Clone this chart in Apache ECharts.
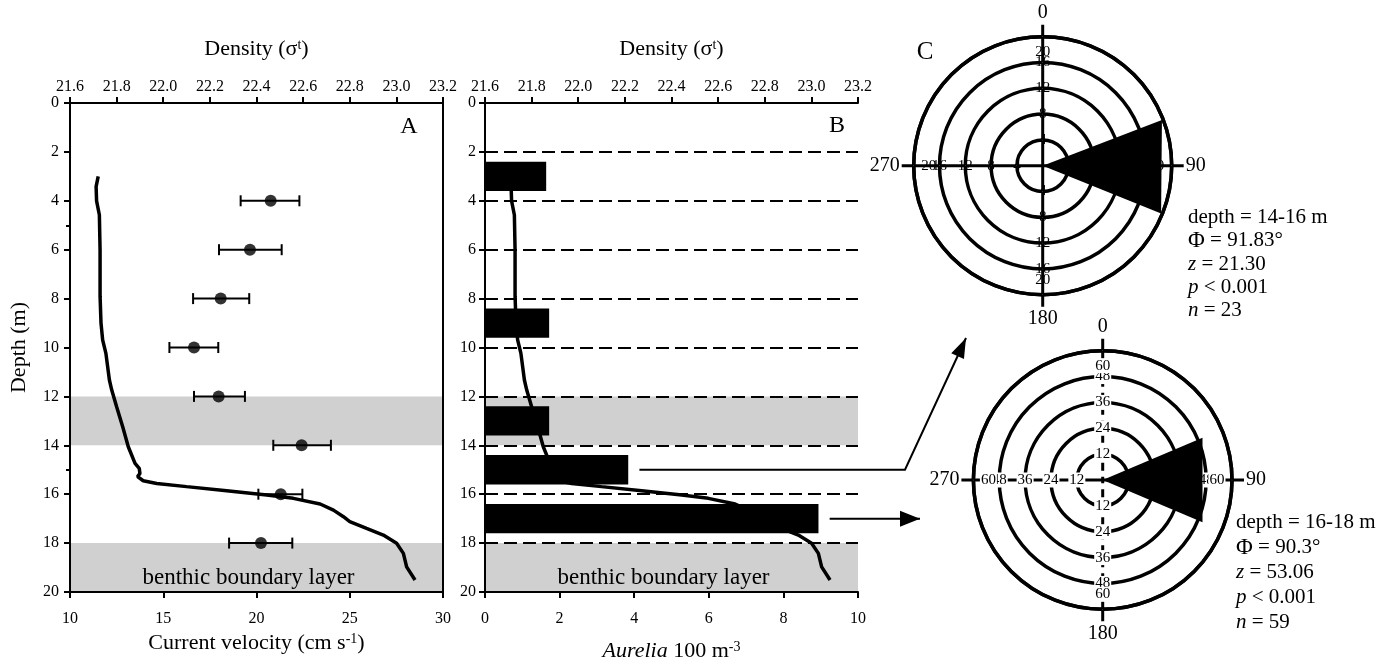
<!DOCTYPE html>
<html>
<head>
<meta charset="utf-8">
<script src="https://cdn.jsdelivr.net/npm/echarts@6.0.0/dist/echarts.min.js"></script>
<style>
  html, body { margin: 0; padding: 0; background: #fff; }
  #chart { width: 1391px; height: 664px; }
</style>
</head>
<body>
<div id="chart"></div>
<script>
// density profile (sigma-t) vs depth, same trace in panels A and B
const profileDepth = [3.0, 3.42, 4.0, 4.58, 6.0, 7.9, 9.0, 9.69, 10.24, 11.33, 11.74, 12.42, 13.24, 14.06, 14.74, 14.94, 15.15, 15.28, 15.45, 15.56, 15.69, 15.86, 16.03, 16.17, 16.4, 16.65, 16.92, 17.12, 17.4, 17.67, 18.01, 18.42, 18.97, 19.51];
const profileSigma = [21.721, 21.712, 21.714, 21.726, 21.729, 21.729, 21.733, 21.74, 21.754, 21.769, 21.779, 21.8, 21.826, 21.85, 21.879, 21.897, 21.9, 21.89, 21.914, 21.972, 22.1, 22.272, 22.444, 22.558, 22.673, 22.73, 22.773, 22.8, 22.872, 22.944, 23.001, 23.03, 23.044, 23.08];

// current velocity, mean and error range
const velDepth = [4, 6, 8, 10, 12, 14, 16, 18];
const velMean = [20.76, 19.65, 18.08, 16.65, 17.97, 22.42, 21.3, 20.24];
const velLow = [19.15, 17.99, 16.6, 15.33, 16.65, 20.9, 20.1, 18.53];
const velHigh = [22.3, 21.35, 19.61, 17.95, 19.38, 23.99, 22.46, 21.92];

// Aurelia per 2 m depth bin
const depthBins = ['0-2', '2-4', '4-6', '6-8', '8-10', '10-12', '12-14', '14-16', '16-18', '18-20'];
const aurelia = [0, 1.64, 0, 0, 1.72, 0, 1.72, 3.84, 8.94, 0];

const shadedLayers = [[12, 14], [18, 20]];

// circular plots: ring ticks and the wedge [radius, fromAngle, toAngle]
const rose1Rings = [4, 8, 12, 16, 20];
const rose1Wedge = [19.8, 69, 112];
const rose1Stats = ['depth = 14-16 m', '{b|Φ} = 91.83°', '{i|z} = 21.30', '{i|p} < 0.001', '{i|n} = 23'];
const rose2Rings = [12, 24, 36, 48, 60];
const rose2Wedge = [50.3, 67, 113];
const rose2Stats = ['depth = 16-18 m', '{b|Φ} = 90.3°', '{i|z} = 53.06', '{i|p} < 0.001', '{i|n} = 59'];
const compass = [0, 90, 180, 270];

const FONT = 'Liberation Serif';
const BLK = '#000';
const chart = echarts.init(document.getElementById('chart'));

const profile = profileSigma.map((s, i) => [s, profileDepth[i]]);

function bands(withLabel) {
  return {
    silent: true,
    itemStyle: { color: '#d0d0d0' },
    label: { show: withLabel, position: 'insideBottom', distance: 3, color: BLK, fontFamily: FONT, fontSize: 23, offset: [-8, 0] },
    data: shadedLayers.map((b, i) => [
      { yAxis: b[0], name: i === shadedLayers.length - 1 ? 'benthic boundary layer' : '' },
      { yAxis: b[1] }
    ])
  };
}

const nameStyle = {
  color: BLK, fontFamily: FONT, fontSize: 22,
  rich: { sup: { fontSize: 14, verticalAlign: 'top', fontFamily: FONT, color: BLK },
          it: { fontStyle: 'italic', fontSize: 22, fontFamily: FONT, color: BLK } }
};

function xAx(grid, pos, min, max, step, extra) {
  return Object.assign({
    gridIndex: grid, position: pos, type: 'value', min: min, max: max, interval: step, z: 3,
    axisLine: { onZero: false, lineStyle: { color: BLK, width: 2 } },
    axisTick: { length: 6, lineStyle: { color: BLK, width: 2 } },
    axisLabel: { color: BLK, fontFamily: FONT, fontSize: 16, margin: pos === 'top' ? 8 : 19 },
    splitLine: { show: false },
    nameLocation: 'middle',
    nameTextStyle: nameStyle
  }, extra);
}

function depthAx(grid, extra) {
  return Object.assign({
    gridIndex: grid, position: 'left', type: 'value', min: 0, max: 20, interval: 2, inverse: true, z: 3,
    axisLine: { onZero: false, lineStyle: { color: BLK, width: 2 } },
    axisTick: { length: 6, lineStyle: { color: BLK, width: 2 } },
    axisLabel: { color: BLK, fontFamily: FONT, fontSize: 16, margin: 11 },
    splitLine: { show: false }
  }, extra);
}

function ringLabels(rings, inward) {
  const out = [];
  compass.forEach(a => rings.forEach((r, k) => {
    const item = { value: [r, a] };
    if (k === rings.length - 1) {
      const rad = a * Math.PI / 180;
      item.label = { offset: [-Math.sin(rad) * inward, Math.cos(rad) * inward] };
    }
    out.push(item);
  }));
  return out;
}

function wedgeSeries(polarIndex, wedge) {
  return {
    type: 'custom', coordinateSystem: 'polar', polarIndex: polarIndex, z: 6, silent: true,
    encode: { radius: 0, angle: 1 },
    data: [wedge],
    renderItem: (params, api) => {
      const r = api.value(0);
      const pts = [api.coord([0, api.value(1)]), api.coord([r, api.value(1)]), api.coord([r, api.value(2)])];
      return { type: 'polygon', shape: { points: pts }, style: { fill: BLK } };
    }
  };
}

function labelSeries(polarIndex, rings, bg) {
  return {
    type: 'scatter', coordinateSystem: 'polar', polarIndex: polarIndex, z: 5, silent: true,
    symbolSize: 0.5, itemStyle: { color: '#fff', opacity: 1 },
    label: { show: true, position: 'inside', color: BLK, opacity: 1, textBorderWidth: 0,
      fontFamily: FONT, fontSize: 15, backgroundColor: bg, padding: [0, 1], formatter: p => p.value[0] },
    data: ringLabels(rings, 15)
  };
}

const angleBase = {
  type: 'value', min: 0, max: 360, interval: 90, startAngle: 90, clockwise: true,
  axisLine: { lineStyle: { color: BLK, width: 3.5 } },
  axisTick: { length: 12, lineStyle: { color: BLK, width: 3 } },
  axisLabel: { color: BLK, fontFamily: FONT, fontSize: 20, margin: 14 },
  splitLine: { show: true, lineStyle: { color: BLK, width: 3 } }
};
const armsOnly = (startAngle, dashed) => ({
  type: 'value', min: 0, max: 360, interval: 180, startAngle: startAngle,
  axisLine: { show: false }, axisTick: { show: false }, axisLabel: { show: false },
  splitLine: { show: true, lineStyle: { color: BLK, width: 3, type: dashed ? [8, 6] : 'solid' } }
});
const ringAxis = (max, step, showRings) => ({
  type: 'value', min: 0, max: max, interval: step,
  axisLine: { show: false }, axisTick: { show: false }, axisLabel: { show: false },
  splitLine: { show: showRings, lineStyle: { color: BLK, width: 3.5 } }
});

chart.setOption({
  animation: false,
  backgroundColor: '#fff',
  grid: [
    { left: 70, top: 103, width: 373, height: 489, outerBoundsMode: 'none' },
    { left: 485, top: 103, width: 373, height: 489, outerBoundsMode: 'none' }
  ],
  xAxis: [
    xAx(0, 'bottom', 10, 30, 5, { name: 'Current velocity (cm s{sup|-1})', nameGap: 40 }),
    xAx(0, 'top', 21.6, 23.2, 0.2, { name: 'Density (σ{sup|t})', nameGap: 43,
      axisLabel: { color: BLK, fontFamily: FONT, fontSize: 16, margin: 8, formatter: v => v.toFixed(1) } }),
    xAx(1, 'bottom', 0, 10, 2, { name: '{it|Aurelia} 100 m{sup|-3}', nameGap: 48 }),
    xAx(1, 'top', 21.6, 23.2, 0.2, { name: 'Density (σ{sup|t})', nameGap: 43,
      axisLabel: { color: BLK, fontFamily: FONT, fontSize: 16, margin: 8, formatter: v => v.toFixed(1) } })
  ],
  yAxis: [
    depthAx(0, { name: 'Depth (m)', nameLocation: 'middle', nameGap: 40, nameTextStyle: nameStyle }),
    depthAx(0, { interval: 5, axisTick: { length: 4, lineStyle: { color: BLK, width: 2 } },
      axisLabel: { show: false }, axisLine: { show: false } }),
    depthAx(0, { position: 'right', axisTick: { show: false }, axisLabel: { show: false } }),
    depthAx(1, { axisLabel: { color: BLK, fontFamily: FONT, fontSize: 16, margin: 9 },
      splitLine: { show: true, lineStyle: { color: BLK, width: 2, type: [13, 6] } } }),
    { gridIndex: 1, position: 'right', type: 'category', data: depthBins, inverse: true, z: 3,
      axisLine: { lineStyle: { color: BLK, width: 2 } }, axisTick: { show: false },
      axisLabel: { show: false }, splitLine: { show: false } }
  ],
  polar: [
    { center: [1042.7, 165.7], radius: 129 },
    { center: [1102.7, 480], radius: 129.3 },
    { center: [1102.7, 480], radius: 129.3 },
    { center: [1102.7, 480], radius: 129.3 }
  ],
  angleAxis: [
    Object.assign({ polarIndex: 0 }, angleBase),
    Object.assign({ polarIndex: 1 }, angleBase, { splitLine: { show: false } }),
    Object.assign({ polarIndex: 2 }, armsOnly(0, false)),
    Object.assign({ polarIndex: 3 }, armsOnly(90, true))
  ],
  radiusAxis: [
    Object.assign({ polarIndex: 0 }, ringAxis(20, 4, true)),
    Object.assign({ polarIndex: 1 }, ringAxis(60, 12, true)),
    Object.assign({ polarIndex: 2 }, ringAxis(60, 12, false)),
    Object.assign({ polarIndex: 3 }, ringAxis(60, 12, false))
  ],
  series: [
    { type: 'line', xAxisIndex: 1, yAxisIndex: 0, data: profile, showSymbol: false, silent: true,
      lineStyle: { color: BLK, width: 3.5 }, markArea: bands(true) },
    { type: 'custom', xAxisIndex: 0, yAxisIndex: 0, z: 4, silent: true,
      encode: { x: [0, 1], y: 2 },
      data: velDepth.map((d, i) => [velLow[i], velHigh[i], d]),
      renderItem: (params, api) => {
        const lo = api.coord([api.value(0), api.value(2)]);
        const hi = api.coord([api.value(1), api.value(2)]);
        const st = { stroke: BLK, lineWidth: 2 };
        return { type: 'group', children: [
          { type: 'line', shape: { x1: lo[0], y1: lo[1], x2: hi[0], y2: hi[1] }, style: st },
          { type: 'line', shape: { x1: lo[0], y1: lo[1] - 5.5, x2: lo[0], y2: lo[1] + 5.5 }, style: st },
          { type: 'line', shape: { x1: hi[0], y1: hi[1] - 5.5, x2: hi[0], y2: hi[1] + 5.5 }, style: st }
        ] };
      }
    },
    { type: 'scatter', xAxisIndex: 0, yAxisIndex: 0, z: 5, silent: true, symbolSize: 12,
      itemStyle: { color: BLK }, data: velMean.map((v, i) => [v, velDepth[i]]) },
    { type: 'line', xAxisIndex: 3, yAxisIndex: 3, data: profile, showSymbol: false, silent: true,
      lineStyle: { color: BLK, width: 3.5 }, markArea: bands(true) },
    { type: 'bar', xAxisIndex: 2, yAxisIndex: 4, data: aurelia, barWidth: '60%', z: 4, silent: true,
      itemStyle: { color: BLK } },
    labelSeries(0, rose1Rings, 'transparent'),
    wedgeSeries(0, rose1Wedge),
    labelSeries(1, rose2Rings, '#fff'),
    wedgeSeries(1, rose2Wedge)
  ]
});

// annotations: panel letters, statistics and the arrows from bars to roses
function arrowHead(from, tip, len, half) {
  const dx = tip[0] - from[0], dy = tip[1] - from[1];
  const d = Math.hypot(dx, dy), ux = dx / d, uy = dy / d;
  const bx = tip[0] - ux * len, by = tip[1] - uy * len;
  return [tip, [bx - uy * half, by + ux * half], [bx + uy * half, by - ux * half]];
}
const a1 = chart.convertToPixel({ xAxisIndex: 2, yAxisIndex: 3 }, [aurelia[7] + 0.3, 15]);
const a2 = chart.convertToPixel({ xAxisIndex: 2, yAxisIndex: 3 }, [aurelia[8] + 0.3, 17]);
const kink = [905, a1[1]], tip1 = [966, 338], tip2 = [920, a2[1]];

const statRich = (lh) => ({
  i: { fontStyle: 'italic', fontFamily: FONT, fontSize: 21, lineHeight: lh },
  b: { fontFamily: FONT, fontSize: 23, lineHeight: lh }
});
const letter = (t, x, y, size) => ({ type: 'text', x: x, y: y,
  style: { text: t, fill: BLK, font: size + 'px "' + FONT + '"', align: 'center', verticalAlign: 'middle' } });
const statText = (lines, x, y, lh) => ({ type: 'text', x: x, y: y,
  style: { text: lines.join('\n'), fill: BLK, font: '21px "' + FONT + '"', lineHeight: lh, rich: statRich(lh) } });

chart.setOption({
  graphic: [
    letter('A', 409, 127, 24),
    letter('B', 837, 126, 24),
    letter('C', 925, 52, 25),
    statText(rose1Stats, 1188, 206, 23.3),
    statText(rose2Stats, 1236, 510, 25)
  ].concat([
    { type: 'polyline', shape: { points: [a1, kink, tip1] }, style: { stroke: BLK, lineWidth: 2, fill: null } },
    { type: 'polygon', shape: { points: arrowHead(kink, tip1, 20, 7) }, style: { fill: BLK } },
    { type: 'polyline', shape: { points: [a2, tip2] }, style: { stroke: BLK, lineWidth: 2, fill: null } },
    { type: 'polygon', shape: { points: arrowHead(a2, tip2, 20, 8) }, style: { fill: BLK } }
  ])
});
</script>
</body>
</html>
